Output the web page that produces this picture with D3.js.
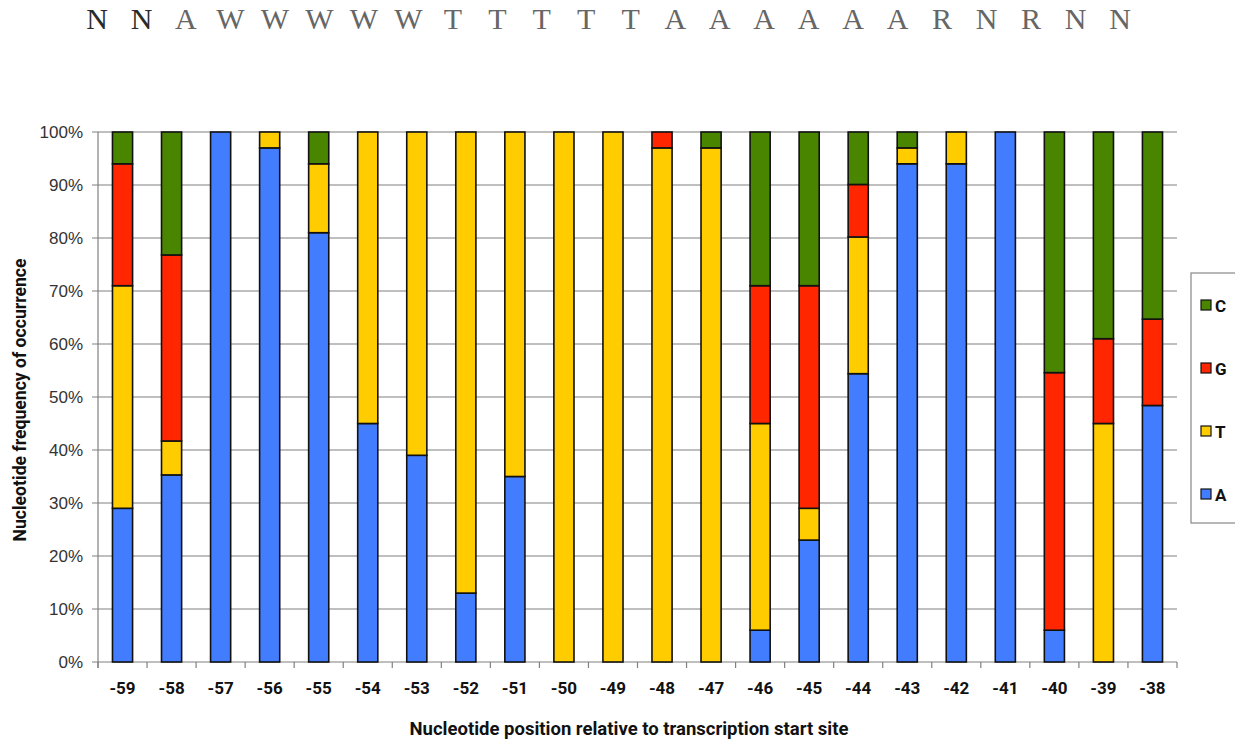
<!DOCTYPE html>
<html><head><meta charset="utf-8">
<script src="https://cdn.jsdelivr.net/npm/d3@7"></script>
<style>body{margin:0;background:#fff}svg{display:block}</style>
</head><body>
<svg id="c" width="1235" height="740"></svg>
<script>
const positions = ["-59","-58","-57","-56","-55","-54","-53","-52","-51","-50","-49","-48","-47","-46","-45","-44","-43","-42","-41","-40","-39","-38"];
const seqA = [29,35.3,100,97,81,45,39,13,35,0,0,0,0,6,23,54.4,94,94,100,6,0,48.4];
const seqT = [42,6.4,0,3,13,55,61,87,65,100,100,97,97,39,6,25.8,3,6,0,0,45,0];
const seqG = [23,35.1,0,0,0,0,0,0,0,0,0,3,0,26,42,9.9,0,0,0,48.6,16,16.3];
const seqC = [6,23.2,0,0,6,0,0,0,0,0,0,0,3,29,29,9.9,3,0,0,45.4,39,35.3];
const yTicks = [0,10,20,30,40,50,60,70,80,90,100];
const logo = ["N","N","A","W","W","W","W","W","T","T","T","T","T","A","A","A","A","A","A","R","N","R","N","N"];
const series = ["A","T","G","C"];
const legendKeys = ["C","G","T","A"];
const colors = {A:"#437dff",T:"#ffcc00",G:"#ff2600",C:"#4a8500"};

const svg = d3.select("#c");
const m = {l:98,r:1177,t:132,b:662};
const x = d3.scaleBand().domain(positions).range([m.l,m.r]).paddingInner(0.59).paddingOuter(0.295);
const xb = d3.scaleBand().domain(positions).range([m.l,m.r]);
const y = d3.scaleLinear().domain([0,100]).range([m.b,m.t]);

// grid
svg.append("g").selectAll("line").data(yTicks).join("line")
  .attr("x1",m.l-6).attr("x2",m.r).attr("y1",d=>y(d)).attr("y2",d=>y(d))
  .attr("stroke","#808080").attr("stroke-width",1.2);
// y axis line
svg.append("line").attr("x1",m.l).attr("x2",m.l).attr("y1",m.t).attr("y2",m.b+6).attr("stroke","#808080").attr("stroke-width",1.2);
// x ticks at band boundaries
const bounds = positions.map(p=>xb(p)).concat([m.r]);
svg.append("g").selectAll("line").data(bounds).join("line")
  .attr("x1",d=>d).attr("x2",d=>d).attr("y1",m.b).attr("y2",m.b+6)
  .attr("stroke","#808080").attr("stroke-width",1.2);

// y tick labels
svg.append("g").selectAll("text").data(yTicks).join("text")
  .attr("x",m.l-15).attr("y",d=>y(d)+6).attr("text-anchor","end")
  .attr("font-family","Liberation Sans, Arial, sans-serif").attr("font-size",17).attr("fill","#333")
  .text(d=>d+"%");

// stacked bars
const rows = positions.map((p,i)=>({pos:p,A:seqA[i],T:seqT[i],G:seqG[i],C:seqC[i]}));
const stack = d3.stack().keys(series)(rows);
svg.append("g").selectAll("g").data(stack).join("g").attr("fill",d=>colors[d.key])
  .selectAll("rect").data(d=>d.filter(e=>e[1]-e[0]>0.001)).join("rect")
  .attr("x",d=>x(d.data.pos)).attr("width",x.bandwidth())
  .attr("y",d=>y(d[1])).attr("height",d=>y(d[0])-y(d[1]))
  .attr("stroke","#111").attr("stroke-width",1.6);

// x labels
svg.append("g").selectAll("text").data(positions).join("text")
  .attr("x",d=>xb(d)+xb.bandwidth()/2).attr("y",694).attr("text-anchor","middle")
  .attr("font-family","Roboto, sans-serif").attr("font-weight","bold").attr("font-size",17).attr("fill","#111")
  .text(d=>d);

// axis titles
svg.append("text").attr("x",629).attr("y",735).attr("text-anchor","middle")
  .attr("font-family","Roboto, sans-serif").attr("font-weight","bold").attr("font-size",18.5).attr("fill","#111")
  .text("Nucleotide position relative to transcription start site");
svg.append("text").attr("transform","translate(26,400) rotate(-90)").attr("text-anchor","middle")
  .attr("font-family","Roboto, sans-serif").attr("font-weight","bold").attr("font-size",17.6).attr("fill","#111")
  .text("Nucleotide frequency of occurrence");

// consensus letters
const lx = d3.scaleLinear().domain([0,logo.length-1]).range([97,1120]);
svg.append("g").selectAll("text").data(logo).join("text")
  .attr("x",(d,i)=>lx(i)).attr("y",29).attr("text-anchor","middle")
  .attr("font-family","Liberation Serif, serif").attr("font-size",30)
  .attr("fill",(d,i)=>i<2?"#2a2a2a":"#666")
  .text(d=>d);

// legend
const lg = svg.append("g");
lg.append("rect").attr("x",1191).attr("y",273).attr("width",60).attr("height",250)
  .attr("fill","#fff").attr("stroke","#888").attr("stroke-width",1.2);
const ly = d3.scalePoint().domain(legendKeys).range([305,494]);
lg.selectAll("rect.k").data(legendKeys).join("rect").attr("class","k")
  .attr("x",1201).attr("y",d=>ly(d)-5).attr("width",10).attr("height",10)
  .attr("fill",d=>colors[d]).attr("stroke","#111").attr("stroke-width",1.2);
lg.selectAll("text").data(legendKeys).join("text")
  .attr("x",1215).attr("y",d=>ly(d)+7)
  .attr("font-family","Roboto, sans-serif").attr("font-weight","bold").attr("font-size",17).attr("fill","#111")
  .text(d=>d);
</script>
</body></html>
